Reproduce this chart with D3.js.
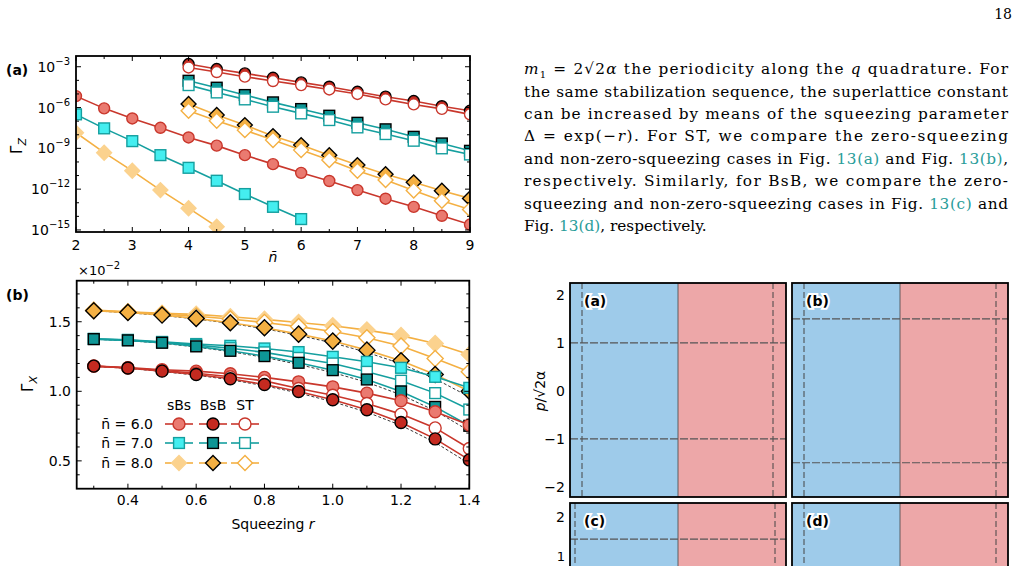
<!DOCTYPE html>
<html><head><meta charset="utf-8">
<script src="https://cdn.jsdelivr.net/npm/d3@7"></script>
<style>body{margin:0;background:#fff}svg{display:block}</style>
</head><body><svg id="s" width="1021" height="566"></svg>
<script>
// ---------- Panel (a) data: log10(Gamma_Z) vs n̄ ----------
const nA_low = [2,2.5,3,3.5,4,4.5,5,5.5,6,6.5,7,7.5,8,8.5,9];
const nA_high = [4,4.5,5,5.5,6,6.5,7,7.5,8,8.5,9];
const a_sBs_red = [-5.16,-6.06,-6.8,-7.49,-8.2,-8.8,-9.5,-10.16,-10.8,-11.4,-12.07,-12.7,-13.3,-13.96,-14.6];
const a_sBs_cyan = [-6.5,-7.53,-8.47,-9.5,-10.43,-11.38,-12.36,-13.3,-14.2];
const a_sBs_yel = [-7.85,-9.32,-10.65,-12.07,-13.4,-14.76];
const a_BsB_red = [-2.8,-3.17,-3.49,-3.81,-4.15,-4.47,-4.84,-5.2,-5.52,-5.9,-6.24];
const a_ST_red = [-3.05,-3.39,-3.73,-4.05,-4.35,-4.67,-5.0,-5.4,-5.77,-6.1,-6.5];
const a_BsB_cyan = [-4.03,-4.54,-5.08,-5.62,-6.11,-6.6,-7.12,-7.6,-8.15,-8.64,-9.18];
const a_ST_cyan = [-4.35,-4.89,-5.4,-5.94,-6.43,-6.92,-7.46,-7.95,-8.44,-9.0,-9.45];
const a_BsB_yel = [-5.74,-6.55,-7.29,-8.1,-8.76,-9.5,-10.23,-10.9,-11.5,-12.12,-12.68];
const a_ST_yel = [-6.24,-6.97,-7.66,-8.39,-9.13,-9.86,-10.65,-11.33,-12.1,-12.85,-13.5];
const aXTicks = [2,3,4,5,6,7,8,9];
const aYTicks = [-3,-6,-9,-12,-15];

// ---------- Panel (b) data: Gamma_X (×1e-2) vs r ----------
const rB = [0.3,0.4,0.5,0.6,0.7,0.8,0.9,1.0,1.1,1.2,1.3,1.4];
const b_sBs_red = [1.182,1.17,1.155,1.145,1.126,1.1,1.068,1.032,0.987,0.932,0.853,0.757];
const b_BsB_red = [1.181,1.167,1.145,1.121,1.09,1.049,0.999,0.939,0.867,0.776,0.658,0.507];
const b_ST_red = [1.181,1.168,1.15,1.13,1.105,1.075,1.02,0.972,0.912,0.836,0.737,0.589];
const b_th_red = [1.18,1.165,1.142,1.116,1.083,1.04,0.988,0.925,0.85,0.755,0.632,0.48];
const b_sBs_cyan = [1.377,1.37,1.355,1.34,1.327,1.308,1.282,1.248,1.212,1.169,1.104,1.025];
const b_BsB_cyan = [1.375,1.366,1.349,1.323,1.291,1.253,1.205,1.152,1.085,0.999,0.888,0.752];
const b_ST_cyan = [1.376,1.368,1.352,1.332,1.31,1.28,1.24,1.2,1.14,1.076,0.987,0.869];
const b_th_cyan = [1.374,1.364,1.346,1.318,1.285,1.244,1.193,1.135,1.065,0.975,0.86,0.715];
const b_sBs_yel = [1.584,1.572,1.56,1.553,1.536,1.517,1.495,1.471,1.44,1.4,1.344,1.265];
const b_BsB_yel = [1.579,1.567,1.548,1.524,1.493,1.457,1.411,1.361,1.296,1.219,1.121,1.0];
const b_ST_yel = [1.58,1.57,1.555,1.54,1.52,1.495,1.465,1.43,1.385,1.325,1.235,1.14];
const b_th_yel = [1.578,1.565,1.545,1.52,1.488,1.45,1.402,1.348,1.28,1.198,1.09,0.96];
const bXTicks = [0.4,0.6,0.8,1.0,1.2,1.4];
const bYTicks = [0.5,1.0,1.5];
const legendRows = ["n̄ = 6.0","n̄ = 7.0","n̄ = 8.0"];
const legendCols = ["sBs","BsB","ST"];

// ---------- Text ----------
const textLines = [
 "the same stabilization sequence, the superlattice constant",
 "can be increased by means of the squeezing parameter"
];

const svg = d3.select("#s");
const SANS = "DejaVu Sans, sans-serif";
const SERIF = "DejaVu Serif, serif";
const C = {red:{line:"#c9372c",light:"#ea7a70",dark:"#c42a20"},
           cyan:{line:"#159f9f",light:"#44eef0",dark:"#0e9696"},
           yel:{line:"#f4b043",light:"#fbd28e",dark:"#f4b043"}};

function marker(g, shape, x, y, fill, stroke, size){
  if(shape==="circle") g.append("circle").attr("cx",x).attr("cy",y).attr("r",size/2).attr("fill",fill).attr("stroke",stroke).attr("stroke-width",1.4);
  else if(shape==="square") g.append("rect").attr("x",x-size*0.45).attr("y",y-size*0.45).attr("width",size*0.9).attr("height",size*0.9).attr("fill",fill).attr("stroke",stroke).attr("stroke-width",1.4);
  else g.append("path").attr("d",`M${x},${y-size*0.62}L${x+size*0.62},${y}L${x},${y+size*0.62}L${x-size*0.62},${y}Z`).attr("fill",fill).attr("stroke",stroke).attr("stroke-width",1.4);
}
function series(g,xs,ys,x,y,col,shape,fill,stroke,size){
  const pts = ys.map((v,i)=>[x(xs[i]),y(v)]);
  g.append("path").attr("d",d3.line()(pts)).attr("fill","none").attr("stroke",col).attr("stroke-width",1.6);
  pts.forEach(p=>marker(g,shape,p[0],p[1],fill,stroke,size));
}
function frame(x0,x1,y0,y1){
  svg.append("rect").attr("x",x0).attr("y",y0).attr("width",x1-x0).attr("height",y1-y0).attr("fill","none").attr("stroke","#000").attr("stroke-width",1.8);
}

// ===== Panel (a) =====
const xa = d3.scaleLinear().domain([2,9]).range([76,470]);
const ya = d3.scaleLinear().domain([-2.21,-15.15]).range([56,232]);
const ga = svg.append("g");
ga.append("defs").append("clipPath").attr("id","ca").append("rect").attr("x",76).attr("y",56).attr("width",394).attr("height",176);
const pa = ga.append("g").attr("clip-path","url(#ca)");
series(pa,nA_low,a_sBs_red,xa,ya,C.red.line,"circle",C.red.light,C.red.line,11);
series(pa,nA_low,a_sBs_cyan,xa,ya,C.cyan.line,"square",C.cyan.light,C.cyan.line,12);
series(pa,nA_low,a_sBs_yel,xa,ya,C.yel.line,"diamond",C.yel.light,C.yel.light,12);
series(pa,nA_high,a_BsB_red,xa,ya,C.red.line,"circle",C.red.dark,"#000",11);
series(pa,nA_high,a_ST_red,xa,ya,C.red.line,"circle","#fff",C.red.line,11);
series(pa,nA_high,a_BsB_cyan,xa,ya,C.cyan.line,"square",C.cyan.dark,"#000",12);
series(pa,nA_high,a_ST_cyan,xa,ya,C.cyan.line,"square","#fff",C.cyan.line,12);
series(pa,nA_high,a_BsB_yel,xa,ya,C.yel.line,"diamond",C.yel.dark,"#000",12);
series(pa,nA_high,a_ST_yel,xa,ya,C.yel.line,"diamond","#fff",C.yel.line,12);
frame(76,470,56,232);
d3.range(2,9.01,0.5).forEach(v=>{const L=Number.isInteger(v)?5:3;
  ga.append("line").attr("x1",xa(v)).attr("x2",xa(v)).attr("y1",232).attr("y2",232-L).attr("stroke","#000");
  ga.append("line").attr("x1",xa(v)).attr("x2",xa(v)).attr("y1",56).attr("y2",56+L).attr("stroke","#000");});
d3.range(-3,-15.01,-1).forEach(v=>{const L=(v%3===0)?5:3;
  ga.append("line").attr("x1",76).attr("x2",76+L).attr("y1",ya(v)).attr("y2",ya(v)).attr("stroke","#000");
  ga.append("line").attr("x1",470).attr("x2",470-L).attr("y1",ya(v)).attr("y2",ya(v)).attr("stroke","#000");});
aXTicks.forEach(v=>ga.append("text").attr("x",xa(v)).attr("y",250).attr("text-anchor","middle").attr("font-family",SANS).attr("font-size",14).text(v));
aYTicks.forEach(v=>{const t=ga.append("text").attr("x",70).attr("y",ya(v)+5).attr("text-anchor","end").attr("font-family",SANS).attr("font-size",14);
  t.append("tspan").text("10");t.append("tspan").attr("dy",-7).attr("font-size",10).text("−"+(-v));});
ga.append("text").attr("x",273).attr("y",262).attr("text-anchor","middle").attr("font-family",SANS).attr("font-size",14).attr("font-style","italic").text("n̄");
const gzl = ga.append("text").attr("transform","translate(22,146) rotate(-90)").attr("text-anchor","middle").attr("font-family",SANS).attr("font-size",15);
gzl.append("tspan").text("Γ");gzl.append("tspan").attr("dy",4).attr("font-size",11).attr("font-style","italic").text("Z");
ga.append("text").attr("x",6).attr("y",75).attr("font-family",SANS).attr("font-weight","bold").attr("font-size",14).text("(a)");

// ===== Panel (b) =====
const xb = d3.scaleLinear().domain([0.25,1.4]).range([76.7,469.3]);
const yb = d3.scaleLinear().domain([1.795,0.3]).range([280.7,488.7]);
const gb = svg.append("g");
gb.append("defs").append("clipPath").attr("id","cb").append("rect").attr("x",76.7).attr("y",280.7).attr("width",392.6).attr("height",208);
const pb = gb.append("g").attr("clip-path","url(#cb)");
[b_th_red,b_th_cyan,b_th_yel].forEach(d=>pb.append("path").attr("d",d3.line()(d.map((v,i)=>[xb(rB[i]),yb(v)]))).attr("fill","none").attr("stroke","#222").attr("stroke-width",0.9).attr("stroke-dasharray","3,2"));
series(pb,rB,b_sBs_yel,xb,yb,C.yel.line,"diamond",C.yel.light,C.yel.light,13);
series(pb,rB,b_ST_yel,xb,yb,C.yel.line,"diamond","#fff",C.yel.line,13);
series(pb,rB,b_BsB_yel,xb,yb,C.yel.line,"diamond",C.yel.dark,"#000",13);
series(pb,rB,b_sBs_cyan,xb,yb,C.cyan.line,"square",C.cyan.light,C.cyan.line,12);
series(pb,rB,b_ST_cyan,xb,yb,C.cyan.line,"square","#fff",C.cyan.line,12);
series(pb,rB,b_BsB_cyan,xb,yb,C.cyan.line,"square",C.cyan.dark,"#000",12);
series(pb,rB,b_sBs_red,xb,yb,C.red.line,"circle",C.red.light,C.red.line,12);
series(pb,rB,b_ST_red,xb,yb,C.red.line,"circle","#fff",C.red.line,12);
series(pb,rB,b_BsB_red,xb,yb,C.red.line,"circle",C.red.dark,"#000",12);
frame(76.7,469.3,280.7,488.7);
d3.range(0.3,1.401,0.1).forEach(v=>{const L=(Math.round(v*10)%2===0)?5:3;
  gb.append("line").attr("x1",xb(v)).attr("x2",xb(v)).attr("y1",488.7).attr("y2",488.7-L).attr("stroke","#000");
  gb.append("line").attr("x1",xb(v)).attr("x2",xb(v)).attr("y1",280.7).attr("y2",280.7+L).attr("stroke","#000");});
d3.range(0.4,1.71,0.1).forEach(v=>{const L=(Math.round(v*10)%5===0)?5:3;
  gb.append("line").attr("x1",76.7).attr("x2",76.7+L).attr("y1",yb(v)).attr("y2",yb(v)).attr("stroke","#000");
  gb.append("line").attr("x1",469.3).attr("x2",469.3-L).attr("y1",yb(v)).attr("y2",yb(v)).attr("stroke","#000");});
bXTicks.forEach(v=>gb.append("text").attr("x",xb(v)).attr("y",505).attr("text-anchor","middle").attr("font-family",SANS).attr("font-size",14).text(v.toFixed(1)));
bYTicks.forEach(v=>gb.append("text").attr("x",71).attr("y",yb(v)+5).attr("text-anchor","end").attr("font-family",SANS).attr("font-size",14).text(v.toFixed(1)));
const xl=gb.append("text").attr("x",273).attr("y",529).attr("text-anchor","middle").attr("font-family",SANS).attr("font-size",14);
xl.append("tspan").text("Squeezing ");xl.append("tspan").attr("font-style","italic").text("r");
const gxl = gb.append("text").attr("transform","translate(33,384) rotate(-90)").attr("text-anchor","middle").attr("font-family",SANS).attr("font-size",15);
gxl.append("tspan").text("Γ");gxl.append("tspan").attr("dy",4).attr("font-size",11).attr("font-style","italic").text("X");
const ex=gb.append("text").attr("x",78).attr("y",275).attr("font-family",SANS).attr("font-size",13);
ex.append("tspan").text("×10");ex.append("tspan").attr("dy",-6).attr("font-size",10).text("−2");
gb.append("text").attr("x",6).attr("y",300).attr("font-family",SANS).attr("font-weight","bold").attr("font-size",14).text("(b)");
const lgX=[179,213,245], lgY=[424,443,463];
legendCols.forEach((t,i)=>gb.append("text").attr("x",lgX[i]).attr("y",410).attr("text-anchor","middle").attr("font-family",SANS).attr("font-size",14).text(t));
legendRows.forEach((t,j)=>gb.append("text").attr("x",153).attr("y",lgY[j]+5).attr("text-anchor","end").attr("font-family",SANS).attr("font-size",14).text(t));
const lc=[C.red,C.cyan,C.yel], ls=["circle","square","diamond"];
legendRows.forEach((t,j)=>{
  const styles=[[lc[j].light, j==2?lc[j].light:lc[j].line],[lc[j].dark,"#000"],["#fff",lc[j].line]];
  legendCols.forEach((c,i)=>{
    gb.append("line").attr("x1",lgX[i]-14).attr("x2",lgX[i]+14).attr("y1",lgY[j]).attr("y2",lgY[j]).attr("stroke",lc[j].line).attr("stroke-width",1.6);
    marker(gb,ls[j],lgX[i],lgY[j],styles[i][0],styles[i][1],12);
  });
});

// ===== Text =====
svg.append("text").attr("x",1012).attr("y",19).attr("text-anchor","end").attr("font-family",SERIF).attr("font-size",14).text("18");
const tx = svg.append("g").attr("font-family",SERIF).attr("font-size",15.3);
const TL=[74,97,119,141,164,186,209,231], W=484, X0=524;
const link="#2a9d9a";
function line(y, parts, justify){
  const t=tx.append("text").attr("x",X0).attr("y",y);
  if(justify) t.attr("textLength",W).attr("lengthAdjust","spacing");
  parts.forEach(p=>{const s=t.append("tspan").text(p[0]); if(p[1]==="i") s.attr("font-style","italic"); if(p[1]==="l") s.attr("fill",link); if(p[1]==="sub") s.attr("font-size",10).attr("dy",4); if(p[1]==="up") s.attr("dy",-4);});
}
line(TL[0],[["m","i"],["1","sub"],[" = 2√2","up"],["α","i"],[" the periodicity along the "],["q","i"],[" quadrature.  For"]],true);
line(TL[1],[[textLines[0]]],true);
line(TL[2],[[textLines[1]]],true);
line(TL[3],[["Δ = exp(−"],["r","i"],[").   For ST, we compare the zero-squeezing"]],true);
line(TL[4],[["and non-zero-squeezing cases in Fig. "],["13(a)","l"],[" and Fig. "],["13(b)","l"],[","]],true);
line(TL[5],[["respectively.   Similarly, for BsB, we compare the zero-"]],true);
line(TL[6],[["squeezing and non-zero-squeezing cases in Fig. "],["13(c)","l"],[" and"]],true);
line(TL[7],[["Fig. "],["13(d)","l"],[", respectively."]],false);

// ===== Vector-field panels (backgrounds + dashed lattice lines) =====
const panels=[
 {lab:"(a)",x0:570,x1:786,y0:283,y1:497,mid:678,vx:[582,773],hp:[1,-1]},
 {lab:"(b)",x0:792,x1:1008,y0:283,y1:497,mid:900,vx:[804,996],hp:[1.5,-1.5]},
 {lab:"(c)",x0:570,x1:786,y0:503,y1:600,mid:678,vx:[575,775],hp:[1.5]},
 {lab:"(d)",x0:792,x1:1008,y0:503,y1:600,mid:900,vx:[804,996],hp:[]}
];
const yTop = d3.scaleLinear().domain([2,-2]).range([295,486.7]);
const yBot = d3.scaleLinear().domain([2,1]).range([516.7,561.7]);
panels.forEach((p,k)=>{
  const ys = k<2?yTop:yBot;
  svg.append("rect").attr("x",p.x0).attr("y",p.y0).attr("width",p.mid-p.x0).attr("height",p.y1-p.y0).attr("fill","#9ecbea");
  svg.append("rect").attr("x",p.mid).attr("y",p.y0).attr("width",p.x1-p.mid).attr("height",p.y1-p.y0).attr("fill","#eda7a8");
  svg.append("line").attr("x1",p.mid).attr("x2",p.mid).attr("y1",p.y0).attr("y2",p.y1).attr("stroke","#444").attr("stroke-width",0.8);
  p.vx.forEach(v=>svg.append("line").attr("x1",v).attr("x2",v).attr("y1",p.y0).attr("y2",p.y1).attr("stroke","#444").attr("stroke-width",1).attr("stroke-dasharray","6,3"));
  p.hp.forEach(v=>svg.append("line").attr("x1",p.x0).attr("x2",p.x1).attr("y1",ys(v)).attr("y2",ys(v)).attr("stroke","#555").attr("stroke-width",1.2).attr("stroke-dasharray","8,2"));
  svg.append("rect").attr("x",p.x0).attr("y",p.y0).attr("width",p.x1-p.x0).attr("height",p.y1-p.y0).attr("fill","none").attr("stroke","#000").attr("stroke-width",1.8);
  svg.append("text").attr("x",p.x0+14).attr("y",p.y0+23).attr("font-family",SANS).attr("font-weight","bold").attr("font-size",14)
    .attr("stroke","#fff").attr("stroke-width",4).attr("paint-order","stroke").text(p.lab);
});
[2,1,0,-1,-2].forEach(v=>svg.append("text").attr("x",565).attr("y",yTop(v)+5).attr("text-anchor","end").attr("font-family",SANS).attr("font-size",14).text(v<0?"−"+(-v):v));
svg.append("text").attr("x",565).attr("y",yBot(2)+5).attr("text-anchor","end").attr("font-family",SANS).attr("font-size",14).text(2);
svg.append("text").attr("x",565).attr("y",561).attr("text-anchor","end").attr("font-family",SANS).attr("font-size",13).text(1);
const pl=svg.append("text").attr("transform","translate(545,391) rotate(-90)").attr("text-anchor","middle").attr("font-family",SANS).attr("font-size",14);
pl.append("tspan").attr("font-style","italic").text("p");pl.append("tspan").text("/√2α");
</script></body></html>
